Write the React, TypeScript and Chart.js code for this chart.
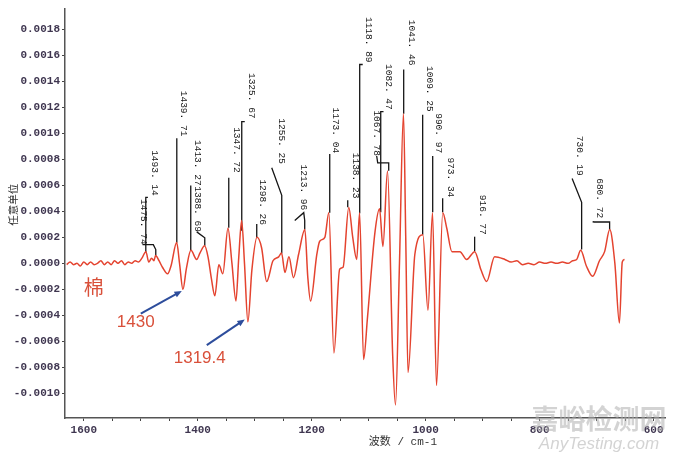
import React, { useEffect, useRef } from 'react';
import { Chart, registerables } from 'chart.js';

Chart.register(...registerables);

// Spectrum (wavenumber cm-1, arbitrary units)
const wavenumbers = [
  1630, 1624, 1618, 1612, 1606, 1600, 1594, 1588, 1582, 1576, 1570, 1564, 1558, 1552, 1546, 1540,
  1534, 1528, 1522, 1516, 1510, 1504, 1498, 1491, 1486, 1481, 1477, 1474, 1468, 1462, 1453, 1447,
  1437, 1432, 1426, 1420, 1412, 1402, 1396, 1388, 1382, 1376, 1370, 1363, 1356, 1347, 1340, 1333,
  1328, 1323, 1318, 1312, 1305, 1296, 1288, 1279, 1268, 1258, 1253, 1247, 1240, 1232, 1223, 1212,
  1207, 1202, 1191, 1186, 1177, 1170, 1161, 1151, 1145, 1135, 1128, 1121, 1116, 1109, 1102, 1089,
  1081, 1075, 1067, 1058, 1053, 1046, 1039, 1035, 1031, 1019, 1005, 996, 988, 981, 970, 963,
  954, 940, 928, 914, 903, 893, 879, 861, 850, 840, 830, 820, 810, 800, 790, 780,
  770, 760, 750, 742, 735, 728, 718, 707, 695, 686, 677, 668, 660, 655, 651,
];
const absorbance = [
  -0.00001, 0.00001, -0.00001, 0.0, -0.00002, 0.00001, -0.00001, 0.00001, -0.00001, 0.0, 0.00002, -0.00001, 0.00001, -0.00001, 0.00002, 0.0,
  0.00002, -0.00001, 0.00001, 0.0, 0.00002, 0.00001, 0.00004, 0.00009, 0.00001, 0.00004, 0.00002, 0.00006, 0.00002, -0.00003, -0.00008, -0.00002,
  0.00016, 0.0, -0.0002, -0.00004, 0.0001, 0.00003, 0.00008, 0.000135, 0.00005, -0.00012, -0.00025, -0.00001, -0.00008, 0.00027, 0.0, -0.00029,
  0.00005, 0.00033, 0.0, -0.00045, -0.00005, 0.0002, 0.00012, -0.00014, 0.00002, 0.00005, 0.00008, -0.00007, 0.00005, -0.00011, 0.00007, 0.00026,
  -0.0001, -0.00029, 0.00007, 0.00017, 0.0002, 0.00039, -0.00069, -0.000045, -0.00003, 0.00043, 0.0002, 0.00003, 0.00039, -0.00074, -0.00041, 0.00024,
  0.00042, 0.00013, 0.00071, -0.0007, -0.00109, 0.0, 0.00115, 0.0002, -0.00084, 0.00007, 0.00022, -0.00036, 0.00039, -0.00094, 0.00039, 0.00027,
  0.00009, 0.00009, 0.00003, 0.00009, -0.00005, -0.00014, 0.00005, 0.00003, 0.00001, 0.00002, -0.00001, 0.0, -0.00001, 0.00001, 0.0, 0.00001,
  0.0, 0.00001, 0.0, 0.00002, 0.00003, 0.0001, -0.00002, -0.0001, 0.00002, 0.00009, 0.00026, 0.0, -0.00046, 0.00001, 0.00003,
];

const xMin = 580;
const xMax = 1633;
const yMin = -0.00119;
const yMax = 0.00196;
const xTickValues = [1600, 1550, 1500, 1450, 1400, 1350, 1300, 1250, 1200, 1150, 1100, 1050, 1000, 950, 900, 850, 800, 750, 700, 650, 600];
const xTickLabels = [1600, 1400, 1200, 1000, 800, 600];
const yTickValues = [-0.001, -0.0008, -0.0006, -0.0004, -0.0002, 0, 0.0002, 0.0004, 0.0006, 0.0008, 0.001, 0.0012, 0.0014, 0.0016, 0.0018];

// Peak annotations
const peakLabels = [
  '1493. 14', '1475. 74', '1439. 71', '1413. 27', '1388. 69', '1347. 72', '1325. 67', '1298. 26',
  '1255. 25', '1213. 96', '1173. 04', '1138. 23', '1118. 89', '1082. 47', '1067. 78', '1041. 46',
  '1009. 25', '990. 97', '973. 34', '916. 77', '730. 19', '680. 72',
];
const peakTextWn = [
  1475.4, 1494.7, 1424.6, 1400, 1400, 1331.6, 1305.3, 1286.8,
  1252.6, 1214, 1157.9, 1122.8, 1100, 1064.9, 1086, 1024.6,
  993, 977.2, 956.1, 900.9, 729.8, 694.7,
];
const peakTextBottom = [
  0.00052, 0.000144, 0.000977, 0.000598, 0.000242, 0.000697, 0.001114, 0.000295,
  0.000765, 0.000409, 0.000848, 0.0005, 0.001545, 0.001182, 0.000826, 0.001523,
  0.001167, 0.000848, 0.000508, 0.00022, 0.000674, 0.000348,
];
const leaderWn = [
  [1487.5, 1491.2, 1491.2],
  [1497, 1478, 1473.7, 1473.7],
  [1436.8, 1436.8],
  [1412.3, 1412.3],
  [1401.8, 1387.7, 1387.7],
  [1345.6, 1345.6],
  [1317.5, 1322.8, 1322.8],
  [1296.5, 1296.5],
  [1270.2, 1252.6, 1252.6],
  [1229.8, 1214, 1212.3, 1212.3],
  [1168.4, 1168.4],
  [1136.8, 1136.8],
  [1110.5, 1115.8, 1115.8],
  [1074, 1078.9, 1078.9],
  [1086, 1084.2, 1064.9, 1064.9],
  [1038.6, 1038.6],
  [1005.3, 1005.3],
  [987.7, 987.7],
  [970.2, 970.2],
  [914.1, 914.1],
  [743, 726.3, 726.3],
  [707, 704, 677.2, 677.2],
];
const leaderVal = [
  [0.000508, 0.000508, 0.000083],
  [0.000144, 0.000144, 0.000106, 0.000061],
  [0.000962, 0.000159],
  [0.000598, 0.000098],
  [0.000242, 0.000197, 0.000136],
  [0.000659, 0.000273],
  [0.001091, 0.001091, 0.00025],
  [0.000303, 0.000197],
  [0.000735, 0.000523, 0.000076],
  [0.00033, 0.00039, 0.00033, 0.00026],
  [0.000841, 0.00039],
  [0.000485, 0.000432],
  [0.00153, 0.00153, 0.000386],
  [0.001167, 0.001167, 0.000394],
  [0.000826, 0.000773, 0.000773, 0.000712],
  [0.001492, 0.00115],
  [0.001144, 0.00022],
  [0.000826, 0.000394],
  [0.0005, 0.000394],
  [0.000205, 0.000091],
  [0.000652, 0.00047, 0.000106],
  [0.00032, 0.000318, 0.000318, 0.000258],
];

// Red callouts with arrows
const calloutTexts = ['1430', '1319.4'];
const calloutTextWn = [1508.8, 1396.5];
const calloutTextVal = [-0.000455, -0.000727];
const arrowFromWn = [1500, 1384.2];
const arrowFromVal = [-0.000386, -0.000629];
const arrowToWn = [1428, 1317.5];
const arrowToVal = [-0.000212, -0.000432];
const sampleName = '棉';
const sampleWn = 1582.5;
const sampleVal = -0.000182;

const xTitle = '波数 / cm-1';
const xTitleWn = 1040;
const yTitle = '任意单位';
const yTitleVal = 0.00045;

const overlayPlugin = {
  id: 'overlay',
  beforeDatasetsDraw(chart: any) {
    const { ctx, scales } = chart;
    const x = scales.x;
    const y = scales.y;
    ctx.save();
    ctx.strokeStyle = '#151515';
    ctx.lineWidth = 1.3;
    leaderWn.forEach((ws, i) => {
      ctx.beginPath();
      ws.forEach((w, j) => {
        const px = x.getPixelForValue(w);
        const py = y.getPixelForValue(leaderVal[i][j]);
        if (j === 0) ctx.moveTo(px, py);
        else ctx.lineTo(px, py);
      });
      ctx.stroke();
    });
    ctx.fillStyle = '#151515';
    ctx.font = '9.5px "Liberation Mono", monospace';
    peakLabels.forEach((t, i) => {
      ctx.save();
      ctx.translate(x.getPixelForValue(peakTextWn[i]), y.getPixelForValue(peakTextBottom[i]));
      ctx.rotate(Math.PI / 2);
      ctx.textAlign = 'right';
      ctx.textBaseline = 'middle';
      ctx.fillText(t, 0, 0);
      ctx.restore();
    });
    ctx.restore();
  },
  afterDraw(chart: any) {
    const { ctx, scales, chartArea } = chart;
    const x = scales.x;
    const y = scales.y;
    ctx.save();
    // sample name
    ctx.fillStyle = '#d9503a';
    ctx.textAlign = 'center';
    ctx.textBaseline = 'middle';
    ctx.font = '20px "Noto Sans CJK SC", sans-serif';
    ctx.fillText(sampleName, x.getPixelForValue(sampleWn), y.getPixelForValue(sampleVal));
    ctx.font = '17px "Liberation Sans", Arial, sans-serif';
    calloutTexts.forEach((t, i) => {
      ctx.fillText(t, x.getPixelForValue(calloutTextWn[i]), y.getPixelForValue(calloutTextVal[i]));
    });
    // arrows
    ctx.strokeStyle = '#2d4d9c';
    ctx.fillStyle = '#2d4d9c';
    ctx.lineWidth = 2;
    arrowFromWn.forEach((w, i) => {
      const x0 = x.getPixelForValue(w);
      const y0 = y.getPixelForValue(arrowFromVal[i]);
      const x1 = x.getPixelForValue(arrowToWn[i]);
      const y1 = y.getPixelForValue(arrowToVal[i]);
      const ang = Math.atan2(y1 - y0, x1 - x0);
      const head = 8;
      ctx.beginPath();
      ctx.moveTo(x0, y0);
      ctx.lineTo(x1 - Math.cos(ang) * head * 0.7, y1 - Math.sin(ang) * head * 0.7);
      ctx.stroke();
      ctx.beginPath();
      ctx.moveTo(x1, y1);
      ctx.lineTo(x1 - head * Math.cos(ang - 0.4), y1 - head * Math.sin(ang - 0.4));
      ctx.lineTo(x1 - head * Math.cos(ang + 0.4), y1 - head * Math.sin(ang + 0.4));
      ctx.closePath();
      ctx.fill();
    });
    // axis titles
    ctx.fillStyle = '#333';
    ctx.font = '11px "Liberation Mono", "Noto Sans CJK SC", monospace';
    ctx.textAlign = 'center';
    ctx.textBaseline = 'middle';
    ctx.fillText(xTitle, x.getPixelForValue(xTitleWn), chartArea.bottom + 24);
    ctx.save();
    ctx.translate(chartArea.left - 52, y.getPixelForValue(yTitleVal));
    ctx.rotate(-Math.PI / 2);
    ctx.font = '10.5px "Noto Sans CJK SC", sans-serif';
    ctx.fillText(yTitle, 0, 0);
    ctx.restore();
    // watermark
    ctx.fillStyle = 'rgba(175,175,175,0.55)';
    ctx.font = 'bold 27px "Noto Sans CJK SC", sans-serif';
    ctx.fillText('嘉峪检测网', chartArea.right - 66, chartArea.bottom + 1);
    ctx.font = 'italic 17px "Liberation Sans", Arial, sans-serif';
    ctx.fillText('AnyTesting.com', chartArea.right - 66, chartArea.bottom + 26);
    ctx.restore();
  },
};

export default function App() {
  const canvasRef = useRef<HTMLCanvasElement | null>(null);

  useEffect(() => {
    const canvas = canvasRef.current;
    if (!canvas) return;
    const points = wavenumbers.map((w, i) => ({ x: w, y: absorbance[i] }));
    const chart = new Chart(canvas, {
      type: 'line',
      data: {
        datasets: [
          {
            data: points,
            borderColor: '#e4432f',
            borderWidth: 1.5,
            pointRadius: 0,
            cubicInterpolationMode: 'monotone',
            fill: false,
          },
        ],
      },
      options: {
        responsive: false,
        animation: false,
        devicePixelRatio: 1,
        layout: { padding: { left: 0, right: 15, top: 0, bottom: 0 } },
        plugins: { legend: { display: false }, tooltip: { enabled: false } },
        scales: {
          x: {
            type: 'linear',
            reverse: true,
            min: xMin,
            max: xMax,
            afterBuildTicks: (scale: any) => {
              scale.ticks = xTickValues.map((value) => ({ value }));
            },
            afterFit: (scale: any) => {
              scale.height = 41;
            },
            grid: { display: true, drawOnChartArea: false, drawTicks: true, tickLength: 3, color: '#444' },
            border: { display: true, color: '#555', width: 1.5, dash: [1.5, 2.5] },
            ticks: {
              autoSkip: false,
              maxRotation: 0,
              padding: 3,
              color: '#3f3650',
              font: { family: '"Liberation Mono", monospace', size: 11, weight: 'bold' },
              callback: (v: any) => (xTickLabels.includes(Number(v)) ? String(v) : ''),
            },
          },
          y: {
            type: 'linear',
            min: yMin,
            max: yMax,
            afterBuildTicks: (scale: any) => {
              scale.ticks = yTickValues.map((value) => ({ value }));
            },
            afterFit: (scale: any) => {
              scale.width = 65;
            },
            grid: { display: true, drawOnChartArea: false, drawTicks: true, tickLength: 3, color: '#444' },
            border: { display: true, color: '#555', width: 1.5, dash: [1.5, 2.5] },
            ticks: {
              autoSkip: false,
              padding: 2,
              color: '#3f3650',
              font: { family: '"Liberation Mono", monospace', size: 11, weight: 'bold' },
              callback: (v: any) => Number(v).toFixed(4),
            },
          },
        },
      },
      plugins: [overlayPlugin],
    } as any);
    return () => chart.destroy();
  }, []);

  return (
    <div style={{ position: 'absolute', left: 0, top: 0, width: 680, height: 459, background: '#fff' }}>
      <canvas ref={canvasRef} width={680} height={459} />
    </div>
  );
}
